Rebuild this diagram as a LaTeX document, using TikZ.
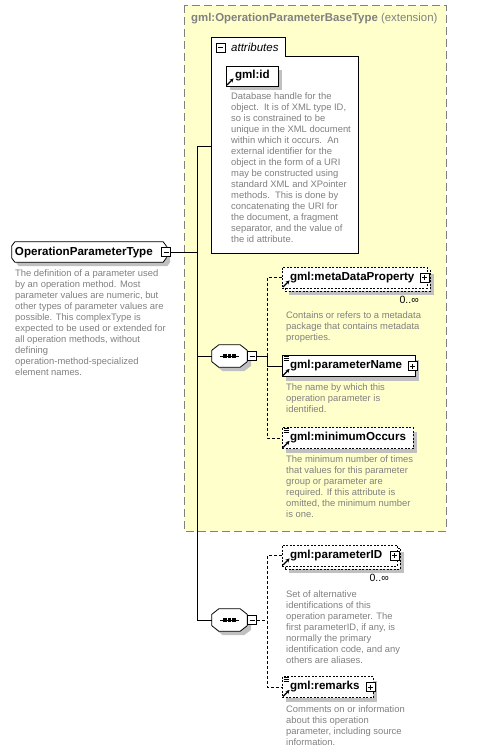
\documentclass[tikz,border=0pt]{standalone}
\usepackage{fontspec}
\setmainfont{Liberation Sans}
\usetikzlibrary{positioning,shadows,arrows.meta}

\definecolor{baseyellow}{RGB}{255,255,204}
\definecolor{descgray}{RGB}{128,128,128}
\definecolor{shadowgray}{RGB}{192,192,192}
\hyphenpenalty=10000

\newcommand{\labelfont}{\fontsize{11.6}{13}\selectfont\bfseries}
\newcommand{\descfont}{\fontsize{9.4}{11}\selectfont}
\newcommand{\multfont}{\fontsize{10.5}{12}\selectfont}

% small marks inside the element boxes
\newcommand{\refmark}[1]{\draw[refarrow] ([shift={(1.5pt,1.5pt)}]#1.south west) -- ++(6.5pt,6.5pt);}
\newcommand{\simplemark}[1]{\foreach \d in {1.5,3.5,5.5} \draw[line width=0.6pt] ([shift={(2pt,-\d pt)}]#1.north west) -- ++(5pt,0pt);}
% beveled outline round an empty node: node, x cut, y cut
\newcommand{\bevelbox}[3]{\draw[line width=0.8pt, fill=white, box shadow]
  ([xshift=#2]#1.north west) -- ([xshift=-#2]#1.north east) -- ([yshift=-#3]#1.north east)
  -- ([yshift=#3]#1.south east) -- ([xshift=-#2]#1.south east) -- ([xshift=#2]#1.south west)
  -- ([yshift=#3]#1.south west) -- ([yshift=-#3]#1.north west) -- cycle;}
\newcommand{\seqmark}[1]{\draw[line width=1pt] ([xshift=-9.5pt]#1.center) -- ([xshift=9.5pt]#1.center);
  \foreach \dx in {-4.5,0,4.5} \fill ([shift={(\dx pt-1.6pt,-1.6pt)}]#1.center) rectangle ++(3.2pt,3.2pt);}

\tikzset{
  box shadow/.style={drop shadow={shadow xshift=4pt, shadow yshift=-4pt, fill=shadowgray, opacity=1}},
  elem/.style={draw, fill=white, line width=0.8pt, inner xsep=8pt, inner ysep=0pt,
    minimum height=21pt, font=\labelfont, align=left},
  optelem/.style={elem, dash pattern=on 2pt off 1.5pt},
  backelem/.style={draw, fill=white, line width=0.8pt, dash pattern=on 2pt off 1.5pt,
    minimum height=21pt, inner sep=0pt},
  shapeonly/.style={inner sep=0pt},
  desc/.style={anchor=north west, inner sep=0pt, align=left, font=\descfont, text=descgray},
  togglebox/.style={draw, fill=white, line width=0.8pt, minimum size=9pt, inner sep=0pt},
  minusbox/.style={togglebox, path picture={
    \draw[line width=0.8pt] ([xshift=-2.5pt]path picture bounding box.center) -- ([xshift=2.5pt]path picture bounding box.center);}},
  plusbox/.style={togglebox, path picture={
    \draw[line width=0.8pt] ([xshift=-2.5pt]path picture bounding box.center) -- ([xshift=2.5pt]path picture bounding box.center);
    \draw[line width=0.8pt] ([yshift=-2.5pt]path picture bounding box.center) -- ([yshift=2.5pt]path picture bounding box.center);}},
  wire/.style={line width=0.8pt},
  optwire/.style={wire, dash pattern=on 3pt off 2pt},
  refarrow/.style={-{Stealth[length=4pt,width=4pt]}, line width=1.3pt},
}

\begin{document}
\begin{tikzpicture}[x=1pt, y=-1pt]
  \useasboundingbox (0,0) rectangle (487,753);

  % extension base
  \filldraw[fill=baseyellow, draw=gray, dash pattern=on 8pt off 4pt] (184,5) rectangle (446,531);
  \node[anchor=west, inner sep=0pt, font=\fontsize{11.4}{13}\selectfont, text=descgray] (basetitle) at (191,19)
    {\textbf{gml:OperationParameterBaseType} (extension)};

  % attributes
  \node[fill=white, minimum width=146pt, minimum height=196pt, inner sep=0pt] (attrbox) at (285,155) {};
  \node[fill=white, minimum width=73pt, minimum height=19pt, inner sep=0pt, anchor=south west] (attrtab) at (attrbox.north west) {};
  \draw[line width=0.8pt] (attrbox.south west) -- (attrtab.north west) -- (attrtab.north east)
    -- (attrtab.south east) -- (attrbox.north east) -- (attrbox.south east) -- cycle;
  \node[minusbox] (attrminus) at (220.5,47.5) {};
  \node[anchor=west, inner sep=0pt, font=\fontsize{11.5}{13}\selectfont\itshape] (attrlabel) at (231,47.5) {attributes};
  \node[elem, box shadow, text width=34pt, inner xsep=9pt, minimum height=20pt] (gmlid) at (252,76) {gml:id};
  \refmark{gmlid}
  \node[desc] (iddesc) at (231,92.7) {Database handle for the\\
    object.\ \ It is of XML type ID,\\
    so is constrained to be\\
    unique in the XML document\\
    within which it occurs.\ \ An\\
    external identifier for the\\
    object in the form of a URI\\
    may be constructed using\\
    standard XML and XPointer\\
    methods.\ \ This is done by\\
    concatenating the URI for\\
    the document, a fragment\\
    separator, and the value of\\
    the id attribute.};

  % the complex type
  \node[shapeonly, minimum width=154pt, minimum height=20pt] (opt) at (89,252) {};
  \bevelbox{opt}{3pt}{4pt}
  \node[anchor=west, inner sep=0pt, font=\labelfont] (optlabel) at ([xshift=3pt]opt.west) {OperationParameterType};
  \node[minusbox] (optminus) at (opt.east) {};
  \node[desc] (optdesc) at (15,269.7) {The definition of a parameter used\\
    by an operation method. Most\\
    parameter values are numeric, but\\
    other types of parameter values are\\
    possible. This complexType is\\
    expected to be used or extended for\\
    all operation methods, without\\
    defining\\
    operation-method-specialized\\
    element names.};

  % first sequence
  \node[shapeonly, minimum width=35pt, minimum height=22pt] (seq1) at (229.5,356) {};
  \bevelbox{seq1}{7pt}{5.5pt}
  \seqmark{seq1}
  \node[minusbox, anchor=west] (seq1m) at (seq1.east) {};

  \node[backelem, box shadow, minimum width=145pt] (metaback) at (357.5,280.5) {};
  \node[optelem, text width=129pt] (meta) at (354.5,277.5) {gml:metaDataProperty};
  \node[plusbox] (metaplus) at ([xshift=-3pt]meta.east) {};
  \refmark{meta}
  \node[anchor=east, inner sep=0pt, font=\multfont] (metamult) at (419,300) {0..∞};
  \node[desc] (metadesc) at (286,311) {Contains or refers to a metadata\\
    package that contains metadata\\
    properties.};

  \node[elem, box shadow, text width=117pt] (pname) at (348.5,366) {gml:parameterName};
  \node[plusbox] (pnameplus) at ([xshift=-3pt]pname.east) {};
  \simplemark{pname}
  \refmark{pname}
  \node[desc] (pnamedesc) at (286,383) {The name by which this\\
    operation parameter is\\
    identified.};

  \node[optelem, box shadow, text width=115pt] (minocc) at (347.5,438) {gml:minimumOccurs};
  \simplemark{minocc}
  \refmark{minocc}
  \node[desc] (minoccdesc) at (286,455) {The minimum number of times\\
    that values for this parameter\\
    group or parameter are\\
    required. If this attribute is\\
    omitted, the minimum number\\
    is one.};

  % second sequence
  \node[shapeonly, minimum width=35pt, minimum height=22pt] (seq2) at (229.5,620) {};
  \bevelbox{seq2}{7pt}{5.5pt}
  \seqmark{seq2}
  \node[minusbox, anchor=west] (seq2m) at (seq2.east) {};

  \node[backelem, box shadow, minimum width=115pt] (pidback) at (342.5,558.5) {};
  \node[optelem, text width=99pt] (pid) at (339.5,555.5) {gml:parameterID};
  \node[plusbox] (pidplus) at ([xshift=-3pt]pid.east) {};
  \refmark{pid}
  \node[anchor=east, inner sep=0pt, font=\multfont] (pidmult) at (389,578) {0..∞};
  \node[desc] (piddesc) at (286,590) {Set of alternative\\
    identifications of this\\
    operation parameter. The\\
    first parameterID, if any, is\\
    normally the primary\\
    identification code, and any\\
    others are aliases.};

  \node[optelem, box shadow, text width=75pt] (remarks) at (327.5,687) {gml:remarks};
  \node[plusbox] (remplus) at ([xshift=-3pt]remarks.east) {};
  \simplemark{remarks}
  \refmark{remarks}
  \node[desc] (remdesc) at (286,705) {Comments on or information\\
    about this operation\\
    parameter, including source\\
    information.};

  % connectors
  \coordinate (jattr) at (197,146);
  \coordinate (s1) at (267,356);
  \coordinate (s2) at (267,620);
  \draw[wire] (optminus.east) -- (optminus -| jattr);
  \draw[wire] (attrbox.west |- jattr) -- (jattr) -- (jattr |- seq2.west) -- (seq2.west);
  \draw[wire] (jattr |- seq1.west) -- (seq1.west);
  \draw[wire] (seq1m.east) -- (s1) -- (s1 |- pname.west) -- (pname.west);
  \draw[optwire] (meta.west) -- (s1 |- meta.west) -- (s1 |- minocc.west) -- (minocc.west);
  \draw[optwire] (seq2m.east) -- (s2);
  \draw[optwire] (pid.west) -- (s2 |- pid.west) -- (s2 |- remarks.west) -- (remarks.west);
\end{tikzpicture}
\end{document}
